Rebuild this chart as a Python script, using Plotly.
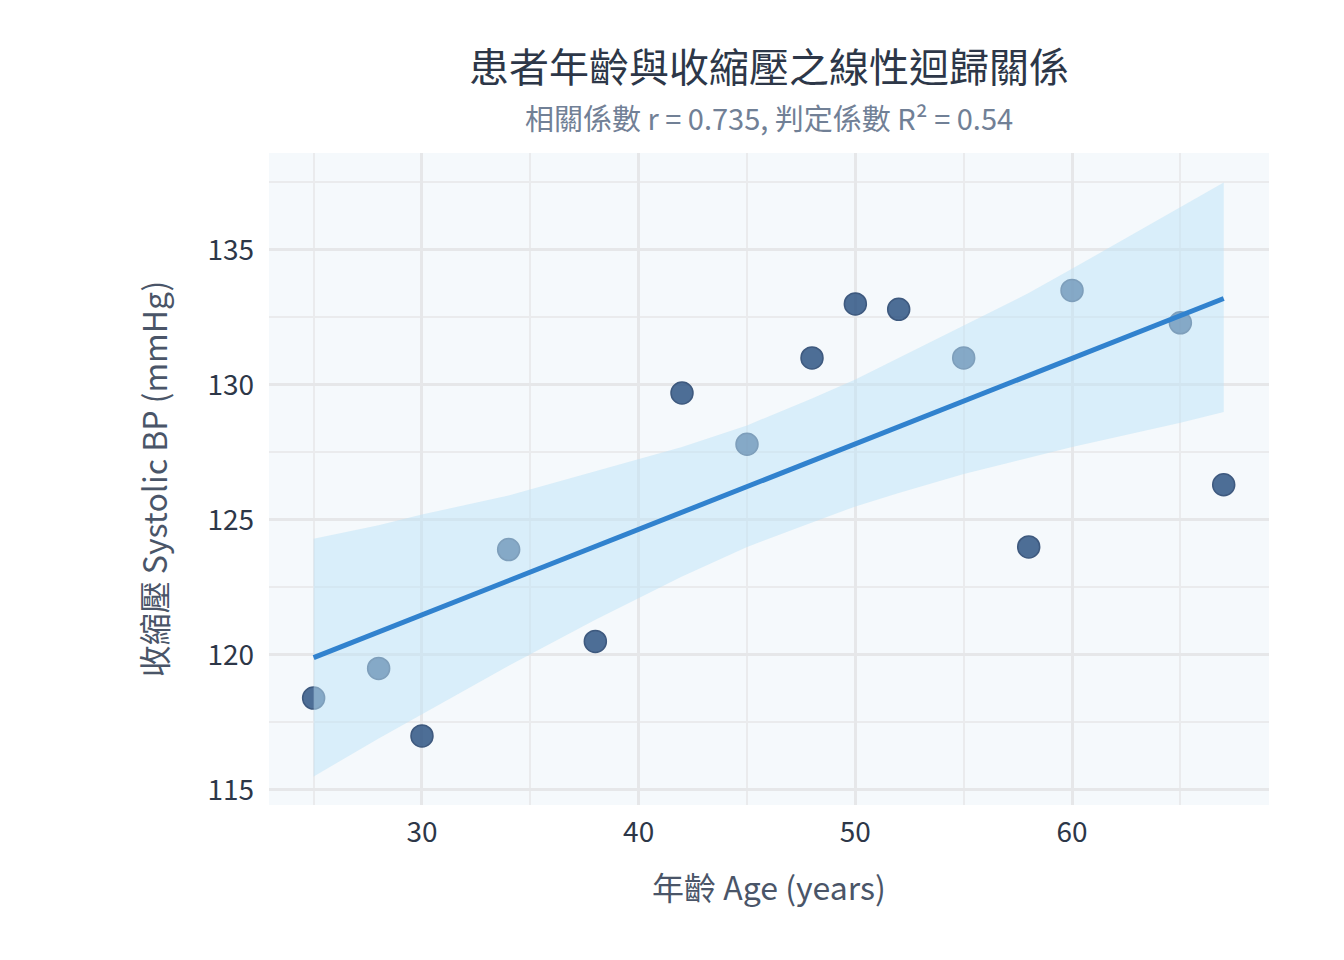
import plotly.graph_objects as go

# patient data
age = [25, 28, 30, 34, 38, 42, 45, 48, 50, 52, 55, 58, 60, 65, 67]
systolic = [118.4, 119.5, 117.0, 123.9, 120.5, 129.7, 127.8, 131.0,
            133.0, 132.8, 131.0, 124.0, 133.5, 132.3, 126.3]

# fitted line end points
fit_x = [25, 67]
fit_y = [119.9, 133.2]

# 95% confidence band
band_x = [25, 28, 30, 34, 38, 42, 45, 48, 50, 52, 55, 58, 60, 65, 67]
band_upper = [124.3, 124.8, 125.2, 125.9, 126.8, 127.7, 128.5, 129.5,
              130.2, 131.0, 132.2, 133.4, 134.3, 136.6, 137.5]
band_lower = [115.5, 116.9, 117.8, 119.6, 121.3, 122.9, 124.0, 124.9,
              125.5, 126.0, 126.7, 127.3, 127.7, 128.6, 129.0]

title_text = "患者年齡與收縮壓之線性迴歸關係"
subtitle_text = "相關係數 r = 0.735, 判定係數 R² = 0.54"

font_family = "Noto Sans CJK TC"

fig = go.Figure()

# points first, the band sits on top of them
fig.add_trace(go.Scatter(
    x=age, y=systolic, mode="markers",
    marker=dict(size=22, color="#2c5282", opacity=0.83,
                line=dict(color="#1a3a66", width=1.5)),
    showlegend=False,
))

fig.add_trace(go.Scatter(
    x=band_x + band_x[::-1],
    y=band_upper + band_lower[::-1],
    fill="toself", fillcolor="rgba(190,227,248,0.5)",
    line=dict(width=0), mode="lines", hoverinfo="skip",
    showlegend=False,
))

fig.add_trace(go.Scatter(
    x=fit_x, y=fit_y, mode="lines",
    line=dict(color="#3182ce", width=5),
    showlegend=False,
))

fig.update_layout(
    width=1344, height=960,
    margin=dict(l=261, r=83, t=145, b=163),
    paper_bgcolor="white",
    plot_bgcolor="#f5f9fc",
    font=dict(family=font_family, size=28, color="#2d3748"),
    annotations=[
        dict(text=title_text, x=0.5, y=1.135, xref="paper", yref="paper",
             xanchor="center", yanchor="middle", showarrow=False,
             font=dict(size=40, color="#2d3748")),
        dict(text=subtitle_text, x=0.5, y=1.055, xref="paper", yref="paper",
             xanchor="center", yanchor="middle", showarrow=False,
             font=dict(size=29, color="#718096")),
    ],
)

fig.update_xaxes(
    range=[22.94, 69.09], dtick=10, tick0=0,
    showgrid=True, gridcolor="#e6e7e9", gridwidth=2.5,
    minor=dict(dtick=5, showgrid=True, gridcolor="#eaebed", gridwidth=1.5),
    zeroline=False, showline=False, ticks="",
    ticklabelstandoff=8,
    tickfont=dict(size=28, color="#2d3748"),
    title=dict(text="年齡 Age (years)", standoff=28,
               font=dict(size=32, color="#4a5568")),
)
fig.update_yaxes(
    range=[114.44, 138.59], dtick=5, tick0=0,
    showgrid=True, gridcolor="#e6e7e9", gridwidth=2.5,
    minor=dict(dtick=2.5, showgrid=True, gridcolor="#eaebed", gridwidth=1.5),
    zeroline=False, showline=False, ticks="",
    ticklabelstandoff=14,
    tickfont=dict(size=28, color="#2d3748"),
    title=dict(text="收縮壓 Systolic BP (mmHg)", standoff=30,
               font=dict(size=32, color="#4a5568")),
)

fig.write_html("out.html")
